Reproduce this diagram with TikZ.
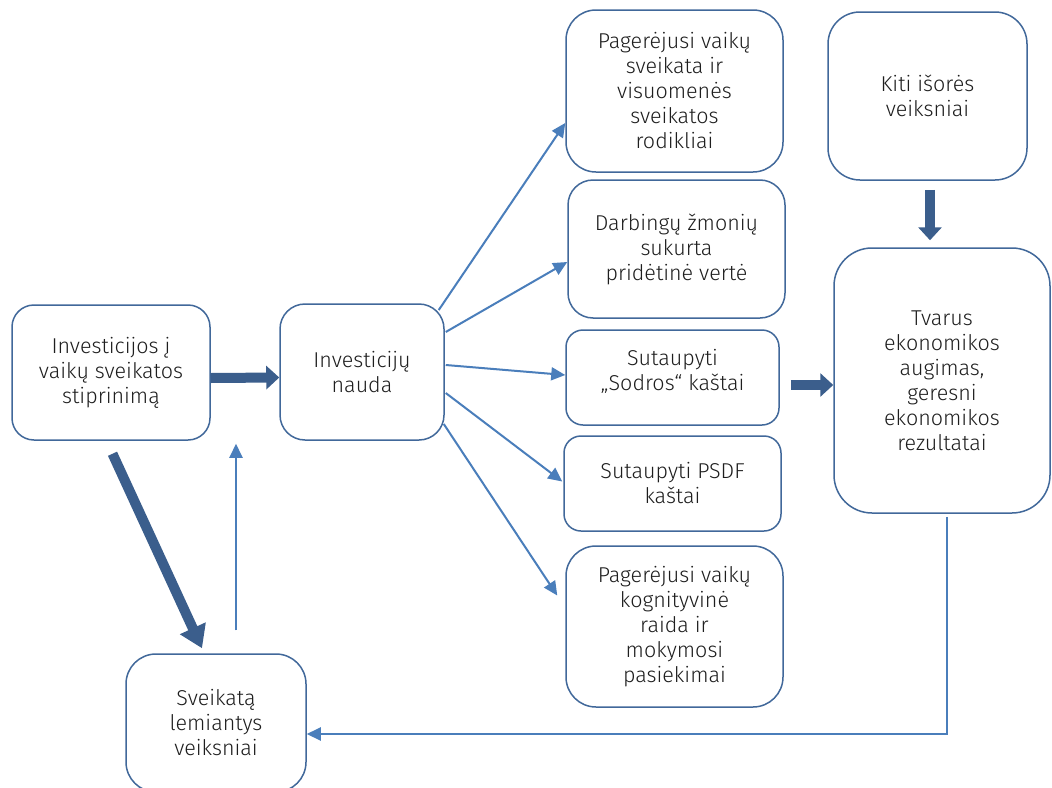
\documentclass[tikz,border=0pt]{standalone}
\usepackage{fontspec}
\setmainfont{Fira Sans}[UprightFont=* Light]
\usetikzlibrary{arrows.meta}
\definecolor{boxc}{RGB}{65,104,154}
\definecolor{thickc}{RGB}{59,94,140}
\definecolor{thinc}{RGB}{74,126,187}
\definecolor{txt}{RGB}{30,30,30}
\begin{document}
\begin{tikzpicture}[x=1pt,y=-1pt,
  box/.style={draw=boxc, line width=1.5pt, align=center, inner sep=0pt, text=txt, font=\fontsize{21.5}{25}\selectfont},
  thinarr/.style={draw=thinc, line width=2pt, -{Triangle[width=13pt,length=14pt]}},
  thickarr/.style={draw=thickc, line width=10pt, -{Triangle[width=23pt,length=13pt]}},
  diagarr/.style={draw=thickc, line width=10pt, -{Triangle[width=27pt,length=22pt]}}]
\fill[white] (0,0) rectangle (1052,787);
\useasboundingbox (0,0) rectangle (1052,787);

\node[box, minimum width=198pt, minimum height=135pt, rounded corners=22pt] (A) at (111,372.5) {Investicijos į\\vaikų sveikatos\\stiprinimą};
\node[box, minimum width=164pt, minimum height=136pt, rounded corners=25pt] (B) at (362,372) {Investicijų\\nauda};
\node[box, minimum width=217pt, minimum height=162pt, rounded corners=30pt] (C1) at (674.5,91) {Pagerėjusi vaikų\\sveikata ir\\visuomenės\\sveikatos\\rodikliai};
\node[box, minimum width=217pt, minimum height=138pt, rounded corners=25pt] (C2) at (676.5,249) {Darbingų žmonių\\sukurta\\pridėtinė vertė};
\node[box, minimum width=213pt, minimum height=95pt, rounded corners=17pt] (C3) at (672.5,377.5) {Sutaupyti\\„Sodros“ kaštai\\[-10pt]};
\node[box, minimum width=217pt, minimum height=95pt, rounded corners=17pt] (C4) at (672.5,483.5) {Sutaupyti PSDF\\kaštai};
\node[box, minimum width=217pt, minimum height=161pt, rounded corners=30pt] (C5) at (674.5,626.5) {Pagerėjusi vaikų\\kognityvinė\\raida ir\\mokymosi\\pasiekimai};
\node[box, minimum width=199pt, minimum height=168pt, rounded corners=32pt] (D) at (927.5,96) {Kiti išorės\\veiksniai};
\node[box, minimum width=216pt, minimum height=265pt, rounded corners=38pt] (E) at (942,380.5) {Tvarus\\ekonomikos\\augimas,\\geresni\\ekonomikos\\rezultatai};
\node[box, minimum width=180pt, minimum height=138pt, rounded corners=30pt] (F) at (216,723) {Sveikatą\\lemiantys\\veiksniai};

% thick arrows
\draw[thickarr] ([yshift=-5.5pt]A.east) -- ([yshift=-5.5pt]B.west);
\draw[thickarr] ([xshift=11pt,yshift=-7.5pt]C3.east) -- ([yshift=-4.5pt]E.west);
\draw[thickarr] ([xshift=2.5pt,yshift=-9pt]D.south) -- ([xshift=-12pt,yshift=7pt]E.north);
\draw[diagarr] ([xshift=1.5pt,yshift=-13pt]A.south) -- ([xshift=-14pt,yshift=5pt]F.north);

% thin arrows
\draw[thinarr] ([xshift=-6pt,yshift=62pt]B.east) -- ([yshift=-32pt]C1.west);
\draw[thinarr] ([xshift=1pt,yshift=40pt]B.east) -- ([yshift=-13pt]C2.west);
\draw[thinarr] ([xshift=1pt,yshift=7pt]B.east) -- ([yshift=2.5pt]C3.west);
\draw[thinarr] ([xshift=1pt,yshift=-21pt]B.east) -- ([xshift=-1pt,yshift=2pt]C4.west);
\draw[thinarr] ([xshift=-1pt,yshift=-52pt]B.east) -- ([xshift=-8pt,yshift=31pt]C5.west);
\draw[thinarr] ([xshift=20pt,yshift=23pt]F.north) -- ([xshift=-126pt,yshift=-3pt]B.south);
\draw[thinarr] ([xshift=5pt,yshift=-3pt]E.south) |- ([yshift=-11pt]F.east);
\end{tikzpicture}
\end{document}
